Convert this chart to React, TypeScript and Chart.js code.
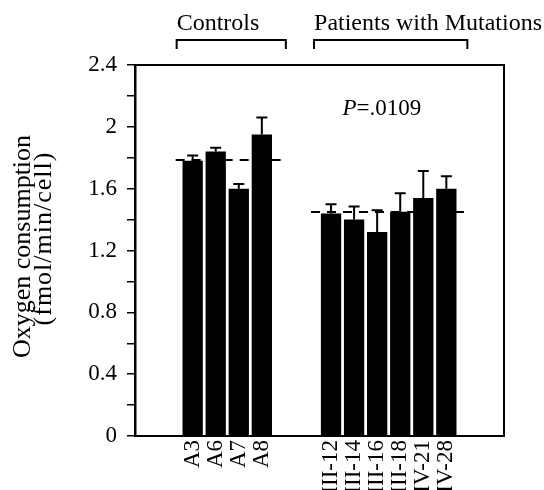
import React, { useEffect, useRef } from 'react';
import { Chart, registerables } from 'chart.js';

Chart.register(...registerables);

// ---- data ----
const controlLabels = ['A3', 'A6', 'A7', 'A8'];
const controlValues = [1.78, 1.84, 1.6, 1.95];
const controlErrors = [0.035, 0.025, 0.03, 0.11];
const patientLabels = ['III-12', 'III-14', 'III-16', 'III-18', 'IV-21', 'IV-28'];
const patientValues = [1.44, 1.4, 1.32, 1.45, 1.54, 1.6];
const patientErrors = [0.06, 0.085, 0.14, 0.12, 0.175, 0.08];
const controlMean = 1.785;
const patientMean = 1.45;
const groupTitles = ['Controls', 'Patients with Mutations'];
const pLetter = 'P';
const pRest = '=.0109';
const yTitleLines = ['Oxygen consumption', '(fmol/min/cell)'];
const yMin = 0;
const yMax = 2.4;
const yStep = 0.2;
const yLabelStep = 0.4;

// ---- slot layout (empty category slots around the two groups) ----
const blank2 = ['', ''];
const labels = [...blank2, ...controlLabels, ...blank2, ...patientLabels, ...blank2];
const values: (number | null)[] = [null, null, ...controlValues, null, null, ...patientValues, null, null];
const errors: (number | null)[] = [null, null, ...controlErrors, null, null, ...patientErrors, null, null];
const controlStart = 2;
const controlEnd = controlStart + controlLabels.length - 1;
const patientStart = controlEnd + 3;
const patientEnd = patientStart + patientLabels.length - 1;

const FONT = '"Liberation Serif", "Times New Roman", serif';

const overlay = {
  id: 'overlay',
  afterDatasetsDraw(chart: any) {
    const { ctx, chartArea: a, scales } = chart;
    const x = scales.x;
    const y = scales.y;
    ctx.save();
    ctx.strokeStyle = '#000';
    ctx.fillStyle = '#000';

    // error bars
    ctx.lineWidth = 2;
    values.forEach((v, i) => {
      if (v == null) return;
      const e = errors[i] as number;
      const px = x.getPixelForValue(i);
      const y0 = y.getPixelForValue(v);
      const y1 = y.getPixelForValue(v + e);
      ctx.beginPath();
      ctx.moveTo(px, y0);
      ctx.lineTo(px, y1);
      ctx.moveTo(px - 5.5, y1);
      ctx.lineTo(px + 5.5, y1);
      ctx.stroke();
    });

    // dashed mean lines
    ctx.setLineDash([9, 7]);
    ctx.lineWidth = 2;
    const dash = (s: number, e: number, m: number, l: number, r: number) => {
      const py = Math.round(y.getPixelForValue(m));
      ctx.beginPath();
      ctx.moveTo(x.getPixelForValue(s) - l, py);
      ctx.lineTo(x.getPixelForValue(e) + r, py);
      ctx.stroke();
    };
    dash(controlStart, controlEnd, controlMean, 17, 21);
    dash(patientStart, patientEnd, patientMean, 20, 19);
    ctx.setLineDash([]);

    // top & right frame
    ctx.lineWidth = 2;
    ctx.beginPath();
    ctx.moveTo(a.left, a.top);
    ctx.lineTo(a.right, a.top);
    ctx.lineTo(a.right, a.bottom);
    ctx.stroke();

    // group brackets + titles
    const bracket = (s: number, e: number, l: number, r: number, title: string) => {
      const x0 = x.getPixelForValue(s) - l;
      const x1 = x.getPixelForValue(e) + r;
      ctx.beginPath();
      ctx.moveTo(x0, 49);
      ctx.lineTo(x0, 40);
      ctx.lineTo(x1, 40);
      ctx.lineTo(x1, 49);
      ctx.stroke();
      ctx.font = `24px ${FONT}`;
      ctx.textAlign = 'left';
      ctx.textBaseline = 'alphabetic';
      ctx.fillText(title, x0, 30);
    };
    bracket(controlStart, controlEnd, 16, 24, groupTitles[0]);
    bracket(patientStart, patientEnd, 17, 21, groupTitles[1]);

    // P value
    ctx.textAlign = 'left';
    ctx.textBaseline = 'alphabetic';
    ctx.font = `italic 23px ${FONT}`;
    const px0 = x.getPixelForValue(patientStart + 0.5);
    ctx.fillText(pLetter, px0, 115);
    const w = ctx.measureText(pLetter).width;
    ctx.font = `23px ${FONT}`;
    ctx.fillText(pRest, px0 + w, 115);

    // y-axis title (two lines, rotated)
    ctx.textAlign = 'center';
    ctx.textBaseline = 'middle';
    const cy = (a.top + a.bottom) / 2;
    ctx.save();
    ctx.font = `26px ${FONT}`;
    ctx.translate(23, cy - 4);
    ctx.rotate(-Math.PI / 2);
    ctx.fillText(yTitleLines[0], 0, 0);
    ctx.restore();
    ctx.save();
    ctx.font = `26px ${FONT}`;
    try {
      (ctx as any).letterSpacing = '1px';
    } catch (e) {}
    ctx.translate(44, cy - 12);
    ctx.rotate(-Math.PI / 2);
    ctx.fillText(yTitleLines[1], 0, 0);
    ctx.restore();

    ctx.restore();
  },
};

export default function App() {
  const ref = useRef<HTMLCanvasElement>(null);
  useEffect(() => {
    if (!ref.current) return;
    const chart = new Chart(ref.current, {
      type: 'bar',
      data: {
        labels,
        datasets: [
          {
            data: values,
            backgroundColor: '#000',
            borderWidth: 0,
            barPercentage: 0.88,
            categoryPercentage: 1,
          },
        ],
      },
      options: {
        animation: false,
        responsive: false,
        devicePixelRatio: 1,
        layout: { padding: { top: 65, right: 40, left: 0, bottom: 0 } },
        plugins: { legend: { display: false }, tooltip: { enabled: false }, title: { display: false } },
        scales: {
          x: {
            type: 'category',
            grid: { display: false, drawTicks: false },
            border: { display: true, color: '#000', width: 2 },
            ticks: {
              autoSkip: false,
              minRotation: 90,
              maxRotation: 90,
              padding: 4,
              color: '#000',
              font: { family: FONT, size: 23 },
            },
            afterFit: (s: any) => {
              s.height = 54;
            },
          },
          y: {
            min: yMin,
            max: yMax,
            grid: { display: true, drawOnChartArea: false, drawTicks: true, tickLength: 8, color: '#000', lineWidth: 1.5 },
            border: { display: true, color: '#000', width: 2.5 },
            ticks: {
              stepSize: yStep,
              padding: 10,
              color: '#000',
              font: { family: FONT, size: 23 },
              callback: (v: any) => {
                const n = Math.round(Number(v) * 10) / 10;
                const k = Math.round(n / yStep);
                return k % Math.round(yLabelStep / yStep) === 0 ? String(n) : '';
              },
            },
            afterFit: (s: any) => {
              s.width = 135;
            },
          },
        },
      },
      plugins: [overlay],
    });
    return () => chart.destroy();
  }, []);
  return (
    <div style={{ position: 'absolute', left: 0, top: 0, width: 544, height: 490, overflow: 'hidden', background: '#fff' }}>
      <canvas ref={ref} width={544} height={490} style={{ display: 'block', width: 544, height: 490 }} />
    </div>
  );
}
